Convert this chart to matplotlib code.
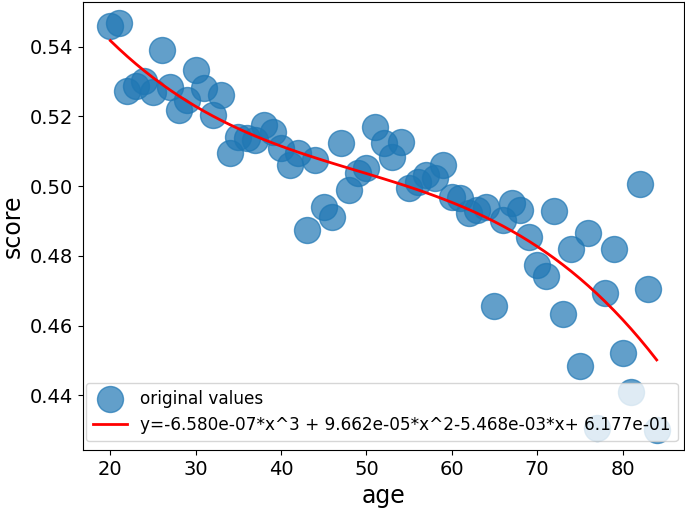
import matplotlib
matplotlib.use("Agg")
import matplotlib.pyplot as plt
import numpy as np

# ages and mean scores
age = [20, 21, 22, 23, 24, 25, 26, 27, 28, 29,
       30, 31, 32, 33, 34, 35, 36, 37, 38, 39,
       40, 41, 42, 43, 44, 45, 46, 47, 48, 49,
       50, 51, 52, 53, 54, 55, 56, 57, 58, 59,
       60, 61, 62, 63, 64, 65, 66, 67, 68, 69,
       70, 71, 72, 73, 74, 75, 76, 77, 78, 79,
       80, 81, 82, 83, 84]
score = [0.5459, 0.5469, 0.5274, 0.5287, 0.5300, 0.5271, 0.5391, 0.5285, 0.5218, 0.5247,
         0.5333, 0.5280, 0.5204, 0.5261, 0.5096, 0.5142, 0.5137, 0.5132, 0.5175, 0.5156,
         0.5108, 0.5060, 0.5094, 0.4874, 0.5075, 0.4941, 0.4912, 0.5123, 0.4989, 0.5037,
         0.5051, 0.5170, 0.5123, 0.5084, 0.5127, 0.4995, 0.5013, 0.5032, 0.5022, 0.5060,
         0.4970, 0.4965, 0.4922, 0.4931, 0.4941, 0.4657, 0.4903, 0.4951, 0.4931, 0.4855,
         0.4773, 0.4742, 0.4929, 0.4633, 0.4820, 0.4484, 0.4865, 0.4305, 0.4692, 0.4819,
         0.4520, 0.4408, 0.5006, 0.4704, 0.4300]

# cubic fit coefficients, as printed in the legend
coef = [-6.580e-07, 9.662e-05, -5.468e-03, 6.177e-01]

fig = plt.figure(figsize=(6.85, 5.13), dpi=100)
ax = fig.add_axes([83/685, 63/513, 601/685, 448/513])

x = np.array(age)
ax.scatter(x, score, s=350, alpha=0.7, label='original values')
fit_label = 'y={:.3e}*x^3 + {:.3e}*x^2{:.3e}*x+ {:.3e}'.format(*coef)
ax.plot(x, np.polyval(coef, x), 'r-', linewidth=2, label=fit_label)

ax.set_xlim(16.8, 87.2)
ax.set_ylim(0.4243, 0.5528)
ax.set_yticks([0.44, 0.46, 0.48, 0.50, 0.52, 0.54])
ax.set_xlabel('age', fontsize=17)
ax.set_ylabel('score', fontsize=17)
ax.tick_params(labelsize=14)
ax.legend(loc='lower left', bbox_to_anchor=(0.005, 0.02), borderaxespad=0, fontsize=12.2)

fig.savefig('out.png', dpi=100)
